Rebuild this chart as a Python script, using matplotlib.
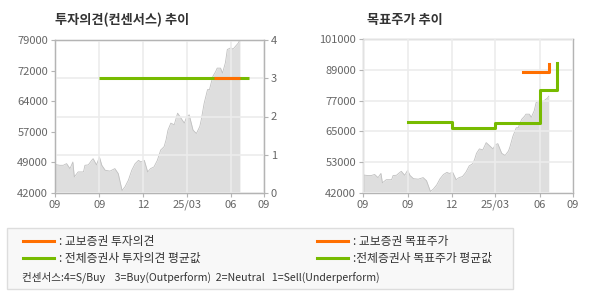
import pandas as pd
import matplotlib
matplotlib.use("Agg")
import matplotlib.pyplot as plt
from matplotlib.patches import Rectangle
from matplotlib.lines import Line2D

plt.rcParams['font.family'] = ['Noto Sans CJK KR', 'DejaVu Sans']

# ---------- DATA ----------
price_dates = ["2024-06-01", "2024-06-11", "2024-06-18", "2024-06-25", "2024-07-02", "2024-07-08",
               "2024-07-11", "2024-07-19", "2024-07-30", "2024-08-02", "2024-08-09", "2024-08-16",
               "2024-08-19", "2024-08-26", "2024-09-01", "2024-09-06", "2024-09-13", "2024-09-23",
               "2024-10-03", "2024-10-10", "2024-10-18", "2024-10-24", "2024-10-31", "2024-11-07",
               "2024-11-14", "2024-11-21", "2024-11-26", "2024-12-03", "2024-12-10", "2024-12-16",
               "2024-12-23", "2024-12-30", "2025-01-06", "2025-01-13", "2025-01-17", "2025-01-21",
               "2025-01-27", "2025-02-03", "2025-02-10", "2025-02-17", "2025-02-24", "2025-03-01",
               "2025-03-06", "2025-03-14", "2025-03-21", "2025-03-28", "2025-03-31", "2025-04-03",
               "2025-04-06", "2025-04-13", "2025-04-17", "2025-04-24", "2025-04-30", "2025-05-03",
               "2025-05-10", "2025-05-14", "2025-05-20", "2025-05-24", "2025-05-31", "2025-06-05",
               "2025-06-16", "2025-06-19"]
price = [48900, 48700, 48700, 49100, 47900, 49500,
         45900, 47100, 47100, 48700, 48800, 49900,
         50300, 48800, 50700, 48700, 47500, 47300,
         47900, 46700, 42600, 43500, 45100, 47500,
         49100, 49900, 49500, 49900, 47100, 47900,
         48300, 49900, 52400, 53200, 54800, 57200,
         58900, 58500, 61300, 60100, 58900, 60500,
         60900, 57200, 56400, 58100, 59700, 61700,
         63700, 67000, 67000, 70200, 71400, 72200,
         72200, 71000, 73500, 76700, 77100, 76800,
         78300, 79100]

# 교보증권 / 전체 투자의견
opinion_avg_dates = ["2024-09-01", "2025-07-07"]
opinion_avg = [3, 3]
opinion_kb_dates = ["2025-04-27", "2025-06-19"]
opinion_kb = [3, 3]

# 목표주가 (step lines)
target_avg_dates = ["2024-09-01", "2024-12-01", "2024-12-01", "2025-03-01", "2025-03-01",
                    "2025-06-01", "2025-06-01", "2025-07-07", "2025-07-07"]
target_avg = [69200, 69200, 67000, 67000, 68900, 68900, 81400, 81400, 91800]
target_kb_dates = ["2025-04-27", "2025-06-19", "2025-06-19"]
target_kb = [88200, 88200, 91500]

x_ticks = ["2024-06-01", "2024-09-01", "2024-12-01", "2025-03-01", "2025-06-01", "2025-08-08"]
x_labels = ["09", "09", "12", "25/03", "06", "09"]
left_ticks = [42000, 49000, 57000, 64000, 72000, 79000]
right_ticks = [42000, 53000, 65000, 77000, 89000, 101000]

ORANGE = "#ff6f00"
GREEN = "#77bb00"
AREA = "#dedede"
GRID = "#ececec"
SPINE = "#b4b4b4"
TXT = "#666666"

price_dates = pd.to_datetime(price_dates)
xt = pd.to_datetime(x_ticks)

fig = plt.figure(figsize=(5.9, 3.0), dpi=100)


def style_axes(ax, ylim, yticks):
    ax.fill_between(price_dates, price, ylim[0], color=AREA, lw=0, zorder=1)
    ax.plot(price_dates, price, color="#c0c0c0", lw=0.6, zorder=1.5)
    ax.set_xlim(xt[0], xt[-1])
    ax.set_ylim(*ylim)
    ax.set_xticks(xt)
    ax.set_xticklabels(x_labels)
    ax.set_yticks(yticks)
    ax.set_yticklabels([str(v) for v in yticks])
    ax.tick_params(colors=SPINE, labelcolor=TXT, labelsize=8, length=3, width=0.8, pad=2)
    for s in ax.spines.values():
        s.set_color(SPINE)
        s.set_linewidth(1)
    ax.set_axisbelow(False)
    ax.grid(axis="x", color=GRID, lw=1.2, zorder=2)


# ---- left: 투자의견 ----
axL = fig.add_axes([55 / 590, 107 / 300, 209 / 590, 153 / 300])
style_axes(axL, (42000, 79000), [42000, 49400, 56800, 64200, 71600, 79000])
axL.set_yticklabels([str(v) for v in left_ticks])
axR = axL.twinx()
axR.set_ylim(0, 4)
axR.set_yticks([0, 1, 2, 3, 4])
axR.tick_params(colors=SPINE, labelcolor=TXT, labelsize=8, length=3, width=0.8, pad=2)
for s in axR.spines.values():
    s.set_color(SPINE)
axR.grid(axis="y", color=GRID, lw=1.2)
axR.plot(pd.to_datetime(opinion_avg_dates), opinion_avg, color=GREEN, lw=2.2, zorder=5, solid_capstyle="butt")
axR.plot(pd.to_datetime(opinion_kb_dates), opinion_kb, color=ORANGE, lw=2.2, zorder=6, solid_capstyle="butt")
fig.text(55 / 590, 1 - 20 / 300, "투자의견(컨센서스) 추이", fontsize=9.5, fontweight="bold",
         color="#333333", va="center", ha="left")

# ---- right: 목표주가 ----
ax2 = fig.add_axes([363 / 590, 107 / 300, 210 / 590, 154 / 300])
style_axes(ax2, (42000, 101000), [42000, 53800, 65600, 77400, 89200, 101000])
ax2.set_yticklabels([str(v) for v in right_ticks])
ax2.grid(axis="y", color=GRID, lw=1.2, zorder=2)
ax2.plot(pd.to_datetime(target_avg_dates), target_avg, color=GREEN, lw=2.2, zorder=5)
ax2.plot(pd.to_datetime(target_kb_dates), target_kb, color=ORANGE, lw=2.2, zorder=6)
fig.text(367 / 590, 1 - 20 / 300, "목표주가 추이", fontsize=9.5, fontweight="bold",
         color="#333333", va="center", ha="left")

# ---- legend box ----
fig.patches.append(Rectangle((7 / 590, 11 / 300), 506 / 590, 61 / 300, transform=fig.transFigure,
                             facecolor="#f8f8f8", edgecolor="#dddddd", lw=1))
legend_items = [
    (23, 241, ORANGE, ": 교보증권 투자의견"),
    (23, 258, GREEN, ": 전체증권사 투자의견 평균값"),
    (317, 241, ORANGE, ": 교보증권 목표주가"),
    (317, 258, GREEN, ":전체증권사 목표주가 평균값"),
]
for x, y, c, label in legend_items:
    fig.lines.append(Line2D([x / 590, (x + 31) / 590], [1 - y / 300, 1 - y / 300],
                            transform=fig.transFigure, color=c, lw=2.2))
    fig.text((x + 36) / 590, 1 - y / 300, label, fontsize=8.5, color="#333333", va="center", ha="left")
fig.text(22 / 590, 1 - 277 / 300,
         "컨센서스:4=S/Buy    3=Buy(Outperform)  2=Neutral   1=Sell(Underperform)",
         fontsize=7.6, color="#333333", va="center", ha="left")

fig.savefig("out.png", dpi=100, facecolor="white")
